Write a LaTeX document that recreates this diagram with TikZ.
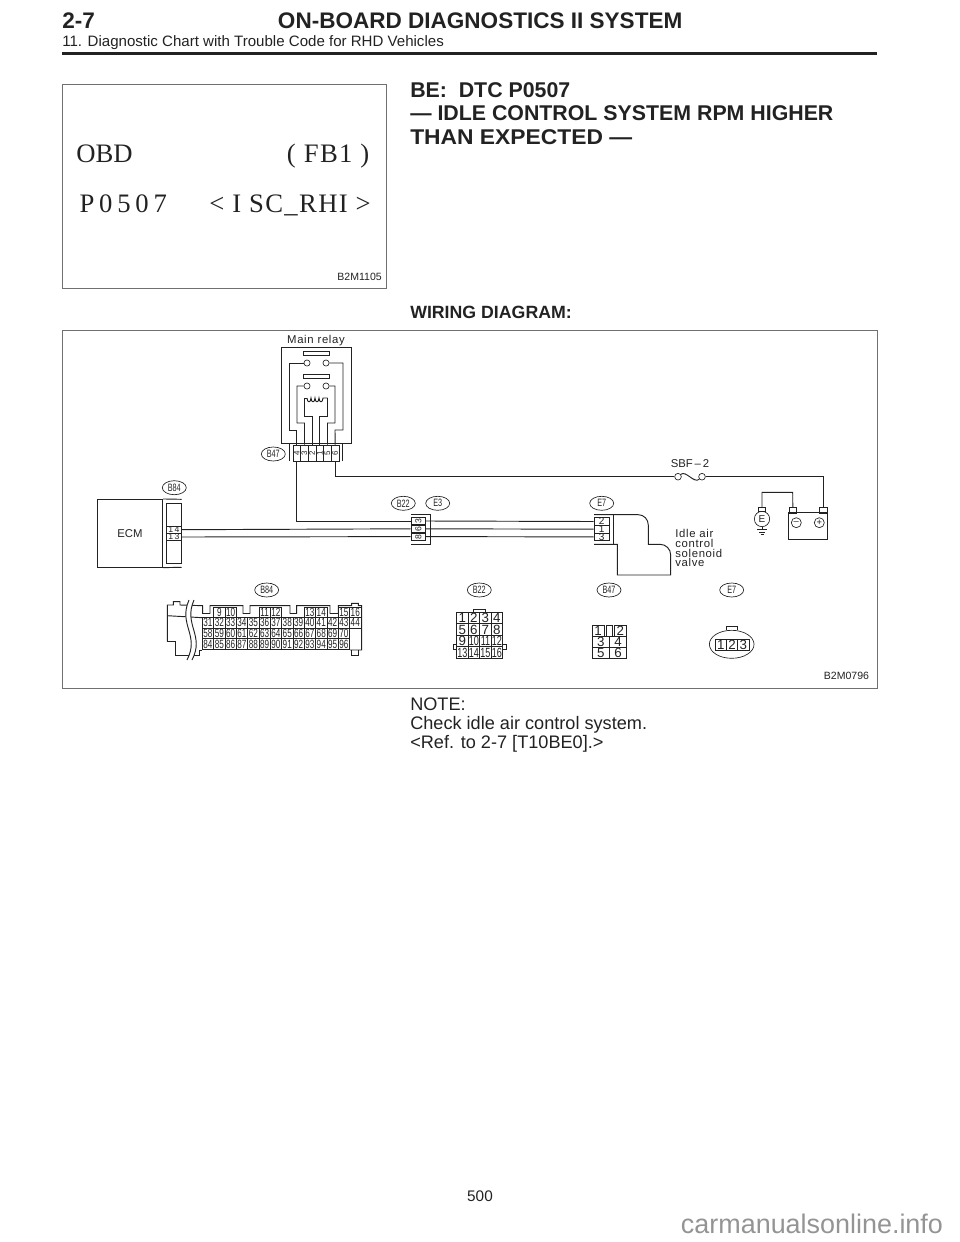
\documentclass[tikz,border=0pt]{standalone}
\usepackage{fontspec}
\usetikzlibrary{shapes.geometric}
\setmainfont{Liberation Sans}
\newfontfamily\timesfont{Liberation Serif}
\newfontfamily\timeswide[LetterSpace=18]{Liberation Serif}
\newfontfamily\timesair[LetterSpace=5]{Liberation Serif}
\newfontfamily\wirefont[LetterSpace=6]{Liberation Sans}
\newcommand{\nar}[1]{\scalebox{.68}[1]{#1}}
\definecolor{ink}{HTML}{222222}
\definecolor{frameline}{HTML}{707070}
\tikzset{
  wire/.style = {draw=ink, line width=0.7pt},
  frame/.style = {draw=frameline, line width=0.7pt},
  page/.style = {anchor=base west, inner sep=0, text=ink},
  tag/.style = {draw=ink, ellipse, line width=0.5pt, minimum width=18pt, minimum height=10.5pt, inner sep=0, font=\fontsize{8}{8}\selectfont, text=ink},
  cell/.style = {draw=ink, line width=0.5pt, inner sep=0, text=ink},
  pincell/.style = {cell, minimum width=8.5pt, minimum height=7.9pt, font=\fontsize{9}{9}\selectfont},
  bigcell/.style = {cell, minimum width=8.6pt, minimum height=8.6pt, font=\fontsize{10}{10}\selectfont},
  tinycell/.style = {cell, minimum width=11.5pt, minimum height=5.6pt, font=\fontsize{6.5}{6.5}\selectfont},
  dot/.style = {draw=ink, circle, line width=0.5pt, minimum size=4.6pt, inner sep=0},
  wirelabel/.style = {anchor=base west, inner sep=0, text=ink, font=\wirefont\fontsize{8.5}{8.5}\selectfont},
}
\begin{document}
\begin{tikzpicture}[x=0.75pt, y=-0.75pt]
\useasboundingbox (0,0) rectangle (960,1242);

% page heading
\node[page, font=\bfseries\fontsize{16.9}{16.9}\selectfont] (sec) at (62,28.7) {2-7};
\node[page, font=\bfseries\fontsize{16.9}{16.9}\selectfont] (head) at (277.7,28.7) {ON-BOARD DIAGNOSTICS II SYSTEM};
\node[page, font=\fontsize{11.3}{11.3}\selectfont] (sub) at (62,46) {11. Diagnostic Chart with Trouble Code for RHD Vehicles};
\draw[draw=ink, line width=2.3pt] (62,53.3) -- (877,53.3);

% scan tool screen
\draw[frame] (62.7,84.7) rectangle (386,288.3);
\node[page, font=\timesfont\fontsize{20}{20}\selectfont] (obd) at (76,162.7) {OBD};
\node[page, font=\timesair\fontsize{20}{20}\selectfont] (fb) at (286.7,162.7) {( FB1 )};
\node[page, font=\timeswide\fontsize{20}{20}\selectfont] (code) at (79.3,212.7) {P0507};
\node[page, font=\timesair\fontsize{20}{20}\selectfont] (isc) at (209,212.7) {< I SC\_RHI >};
\node[page, anchor=base east, font=\fontsize{7.9}{7.9}\selectfont] (pic1) at (382,280) {B2M1105};

% title
\node[page, font=\bfseries\fontsize{16}{16}\selectfont] (t1) at (410,97) {BE:\ \ DTC P0507};
\node[page, font=\bfseries\fontsize{16}{16}\selectfont] (t2) at (410,120.5) {--- IDLE CONTROL SYSTEM RPM HIGHER};
\node[page, font=\bfseries\fontsize{16}{16}\selectfont] (t3) at (410,144) {\scalebox{1.07}[1]{THAN EXPECTED ---}};
\node[page, font=\bfseries\fontsize{13.3}{13.3}\selectfont] (wd) at (410,318) {WIRING DIAGRAM:};

% wiring diagram
\draw[frame] (62,330) rectangle (877,688);
\node[page, anchor=base east, font=\fontsize{7.9}{7.9}\selectfont] (pic2) at (869.3,679.3) {B2M0796};

% main relay
\node[inner sep=0, text=ink, font=\wirefont\fontsize{8.5}{8.5}\selectfont] (relaylabel) at (316,340.5) {Main relay};
\draw[wire] (281,443) rectangle (351,347.3);
\draw[wire] (303,351) rectangle (329,355);
\draw[wire] (303,374) rectangle (329,378);
\node[dot] (c1) at (307,363) {};
\node[dot] (c2) at (326,363) {};
\node[dot] (c3) at (307,386) {};
\node[dot] (c4) at (326,386) {};

% B47 terminals
\foreach \n/\p [count=\i from 0] in {4/a,3/b,2/c,1/d,5/e,6/f}
  \node[cell, minimum width=5.75pt, minimum height=12pt, font=\fontsize{6}{6}\selectfont] (b\p) at (296.8+7.67*\i,453) {\rotatebox{90}{\n}};
\draw[wire] (289,443) -- (289,461);
\draw[wire] (342,443) -- (342,461);
\node[tag] (tagb47) at (273.3,454) {\nar{B47}};

% relay wires
\draw[wire] (c1) -- (289,363) |- (296.8,430) -- (ba.north);
\draw[wire] (c2) -- (343,363) |- (335,430) -- (bf.north);
\draw[wire] (c3) -- (297,386) |- (304.5,423) -- (bb.north);
\draw[wire] (c4) -- (335,386) |- (327.5,423) -- (be.north);
\coordinate (cl) at (304,398);
\coordinate (cr) at (327.5,398);
\draw[wire] (bc.north) |- (304,416) -- (cl) -- (307,398);
\draw[wire] (307,398) .. controls (307,403) and (311,403) .. (311,398) .. controls (311,403) and (315,403) .. (315,398) .. controls (315,403) and (319,403) .. (319,398) .. controls (319,403) and (323,403) .. (323,398) -- (cr);
\draw[wire] (cr) -- (327.5,416) -| (bd.north);

% fuse and battery
\node[dot, minimum size=5pt] (fl) at (678,476.7) {};
\node[dot, minimum size=5pt] (fr) at (702,476.7) {};
\draw[wire] (fl) .. controls (686,470) and (694,484) .. (fr);
\node[inner sep=0, text=ink, font=\fontsize{8.5}{8.5}\selectfont] (sbf) at (690,464) {SBF\,--\,2};
\draw[wire] (bf.south) |- (fl);
\node[cell, minimum width=29pt, minimum height=20pt] (batt) at (807.8,526) {};
\node[cell, minimum width=5.8pt, minimum height=4.3pt] (tneg) at (792.8,510) {};
\node[cell, minimum width=6pt, minimum height=4.3pt] (tpos) at (823.3,510) {};
\node[cell, circle, minimum size=7.5pt, font=\fontsize{7}{7}\selectfont] (neg) at (796.3,522.7) {--};
\node[cell, circle, minimum size=7.5pt, font=\fontsize{7}{7}\selectfont] (pos) at (819.3,522.7) {+};
\draw[wire] (fr) -| (tpos.north);
\node[cell, circle, minimum size=11.5pt, font=\fontsize{7.5}{7.5}\selectfont] (ee) at (762,519) {E};
\node[cell, minimum width=5pt, minimum height=3.2pt] (estub) at (762,509.5) {};
\draw[wire] (estub.north) |- (792.7,492.3) -- (tneg.north);
\coordinate (gnd) at (762,529.3);
\draw[wire] (ee.south) -- (gnd);
\draw[wire] (757,529.3) -- (767,529.3);
\draw[wire] (759,532) -- (765,532);
\draw[wire] (760.5,534.7) -- (763.5,534.7);

% ECM
\node[cell, minimum width=49pt, minimum height=51pt, font=\fontsize{8.5}{8.5}\selectfont] (ecm) at (130,533.3) {ECM};
\draw[wire] (ecm.north east) -- (181.7,499.3);
\draw[wire] (ecm.south east) -- (181.7,567.3);
\draw[wire] (166.3,503.3) rectangle (181.7,563.3);
\node[tinycell] (e14) at (174,529.7) {1\,4};
\node[tinycell] (e13) at (174,537) {1\,3};
\node[tag] (tagb84) at (174.3,487.7) {\nar{B84}};

% B22 E3 joint
\foreach \n/\p [count=\i from 0] in {3/a,6/b,8/c}
  \node[tinycell, minimum width=11pt] (j\p) at (418.3,521+7.8*\i) {\rotatebox{90}{\n}};
\draw[wire] (411,514) -| (430,544) -- (411,544);
\node[tag] (tagb22) at (403.3,503.3) {\nar{B22}};
\node[tag] (tage3) at (437.7,503.3) {\nar{E3}};

% E7 joint
\foreach \n/\p [count=\i from 0] in {2/a,1/b,3/c}
  \node[tinycell, font=\fontsize{7.5}{7.5}\selectfont] (k\p) at (601.7,521.5+7.7*\i) {\n};
\node[tag] (tage7) at (601.7,503.3) {\nar{E7}};

% harness
\draw[wire] (ba.south) |- (ja.west);
\draw[wire] (e14.east) -- (jb.west);
\draw[wire] (e13.east) -- (jc.west);
\draw[wire] (ja.east) -- (ka.west);
\draw[wire] (jb.east) -- (kb.west);
\draw[wire] (jc.east) -- (kc.west);

% solenoid valve
\draw[wire] (594,514.7) -- (638.3,514.7) to[out=0, in=90] (648.3,525) -- (648.3,544.3) -- (660,544.3) to[out=0, in=90] (670.7,555) -- (670.7,575) -- (617.3,575) -- (617.3,544.3) -- (594,544.3);
\draw[wire] (613.3,514.7) -- (613.3,544.3);
\node[wirelabel] (v1) at (675,537) {Idle air};
\node[wirelabel] (v2) at (675,547) {control};
\node[wirelabel] (v3) at (675,557) {solenoid};
\node[wirelabel] (v4) at (675,566.7) {valve};

% connector B84
\node[tag] (conb84) at (266.7,590) {\nar{B84}};
\draw[wire] (167.3,641.7) -- (167.3,605) -- (173.3,605) -- (173.3,601.7) -- (180,601.7) -- (180,605) -- (202.7,605.7) -- (202.7,613.5) -- (210,613.5) -- (210,605.7) -- (243,605.7) -- (243,613.5) -- (250,613.5) -- (250,605.7) -- (290,605.7) -- (290,613.5) -- (296.7,613.5) -- (296.7,605.7) -- (330,605.7) -- (330,613.5) -- (338.3,613.5) -- (338.3,605.7) -- (351.7,605.7) -- (351.7,603.3) -- (358.3,603.3) -- (358.3,605.7) -- (361.7,605.7) -- (361.7,650) -- (350,650);
\draw[wire] (167.3,641.7) -- (175,641.7) -- (175,655) -- (199,655) -- (199,650) -- (202.3,650);
\draw[wire] (167.3,615.7) -- (202.3,617.7);
\draw[wire] (351.7,650) -- (351.7,655) -- (358.3,655) -- (358.3,650);
\fill[white] (189,600) .. controls (178,625) and (200,635) .. (187,660) -- (192,660) .. controls (205,635) and (183,625) .. (194,600) -- cycle;
\draw[wire] (189,600) .. controls (178,625) and (200,635) .. (187,660);
\draw[wire] (194,600) .. controls (183,625) and (205,635) .. (192,660);
\foreach \n/\c in {9/1,10/2,11/5,12/6,13/9,14/10,15/12,16/13}
  \node[pincell, minimum height=7.5pt] (p\n) at (202.3+11.33*\c+5.67,612.2) {\nar{\n}};
\foreach \n [count=\c from 0] in {31,32,33,34,35,36,37,38,39,40,41,42,43,44}
  \node[pincell] (p\n) at (202.3+11.33*\c+5.67,622.8) {\nar{\n}};
\foreach \n [count=\c from 0] in {58,59,60,61,62,63,64,65,66,67,68,69,70}
  \node[pincell] (p\n) at (202.3+11.33*\c+5.67,633.3) {\nar{\n}};
\foreach \n [count=\c from 0] in {84,85,86,87,88,89,90,91,92,93,94,95,96}
  \node[pincell] (p\n) at (202.3+11.33*\c+5.67,643.9) {\nar{\n}};

% connector B22
\node[tag] (conb22) at (479.3,590) {\nar{B22}};
\draw[wire] (473.3,612.3) -- (473.3,609.3) -- (485,609.3) -- (485,612.3);
\draw[wire] (456.7,644) -- (453.3,644) -- (453.3,649) -- (456.7,649);
\draw[wire] (502.7,644) -- (506,644) -- (506,649) -- (502.7,649);
\foreach \r [count=\j from 0] in {{1,2,3,4},{5,6,7,8},{9,10,11,12},{13,14,15,16}}
  \foreach \n [count=\c from 0] in \r
    \node[bigcell] (q\n) at (462.45+11.5*\c,618+11.5*\j) {\ifnum\n>9 \nar{\n}\else\n\fi};

% connector B47
\node[tag] (conb47) at (609,590) {\nar{B47}};
\node[bigcell, minimum width=8.8pt] (r1) at (598.2,630.6) {1};
\node[bigcell, minimum width=5.2pt] (rm) at (609.3,630.6) {};
\node[bigcell, minimum width=9.5pt] (r2) at (620.3,630.6) {2};
\foreach \l/\r [count=\j from 1] in {3/4,5/6} {
  \node[bigcell, minimum width=12.9pt, minimum height=8.3pt] (r\l) at (600.8,630.6+11.1*\j) {\l};
  \node[bigcell, minimum width=12.9pt, minimum height=8.3pt] (r\r) at (618,630.6+11.1*\j) {\r};
}

% connector E7
\node[tag] (cone7) at (731.7,590) {\nar{E7}};
\node[cell, ellipse, minimum width=33.5pt, minimum height=21pt] (shell) at (731.7,644.3) {};
\draw[wire] (726,630.3) -- (726,626.7) -- (737.3,626.7) -- (737.3,630.3);
\foreach \n [count=\c from 0] in {1,2,3}
  \node[bigcell, minimum height=8pt] (s\n) at (720.7+11.3*\c,644.5) {\n};

% note
\node[page, font=\fontsize{13.6}{13.6}\selectfont] (n1) at (410,710) {NOTE:};
\node[page, font=\fontsize{13.6}{13.6}\selectfont] (n2) at (410,729.3) {Check idle air control system.};
\node[page, font=\fontsize{13.6}{13.6}\selectfont] (n3) at (410,748.3) {<Ref. to 2-7 [T10BE0].>};

% page number and site mark
\node[page, anchor=base, font=\fontsize{11.5}{11.5}\selectfont] (pn) at (480,1201) {500};
\node[page, text=black!42, font=\fontsize{20.2}{20.2}\selectfont] (mark) at (680.7,1233) {carmanualsonline.info};
\end{tikzpicture}
\end{document}
